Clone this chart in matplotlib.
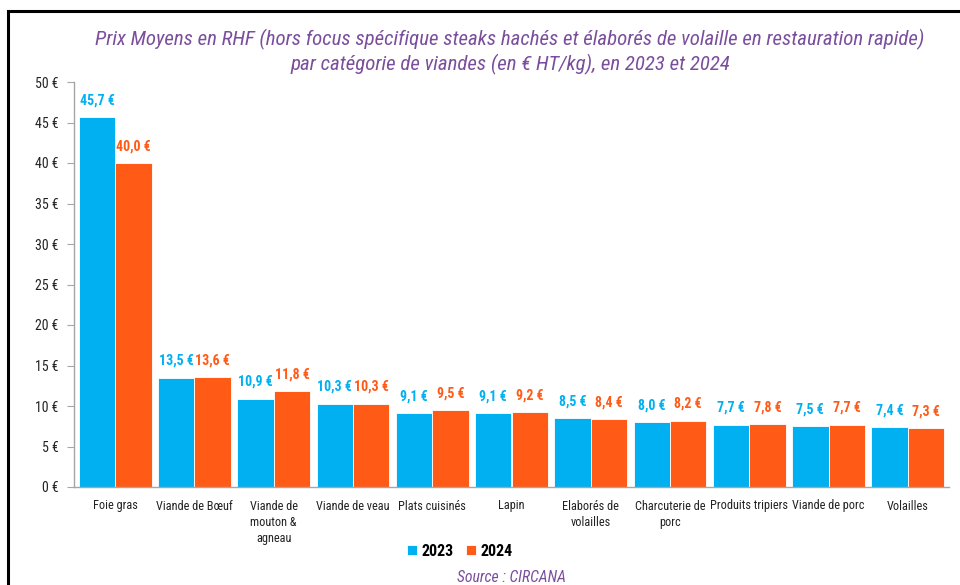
#!/usr/bin/env python3
from __future__ import annotations

import matplotlib

matplotlib.use("Agg")
from matplotlib import font_manager
import matplotlib.pyplot as plt
from matplotlib.patches import Rectangle
import numpy as np


CATEGORIES = [
    "Foie gras",
    "Viande de Bœuf",
    "Viande de\nmouton &\nagneau",
    "Viande de veau",
    "Plats cuisinés",
    "Lapin",
    "Elaborés de\nvolailles",
    "Charcuterie de\nporc",
    "Produits tripiers",
    "Viande de porc",
    "Volailles",
]
PRICES_2023 = [45.7, 13.5, 10.9, 10.3, 9.1, 9.1, 8.5, 8.0, 7.7, 7.5, 7.4]
PRICES_2024 = [40.0, 13.6, 11.8, 10.3, 9.5, 9.2, 8.4, 8.2, 7.8, 7.7, 7.3]
YEARS = ["2023", "2024"]
Y_TICKS = [0, 5, 10, 15, 20, 25, 30, 35, 40, 45, 50]

BLUE = "#00B0F0"
ORANGE = "#FF5A16"
PURPLE = "#7A4E9C"
AXIS_GRAY = "#A6A6A6"
TITLE = (
    "Prix Moyens en RHF (hors focus spécifique steaks hachés et élaborés de volaille en restauration rapide)\n"
    "par catégorie de viandes (en € HT/kg), en 2023 et 2024"
)


def _pick_font() -> str:
    available = {f.name for f in font_manager.fontManager.ttflist}
    for name in ("Roboto Condensed", "Liberation Sans Narrow", "Roboto", "DejaVu Sans"):
        if name in available:
            return name
    return "DejaVu Sans"


def _euro(value: float) -> str:
    return f"{value:.1f}".replace(".", ",") + " €"


def main() -> None:
    font = _pick_font()
    plt.rcParams.update({"font.family": [font, "DejaVu Sans"], "axes.unicode_minus": False})

    fig = plt.figure(figsize=(9.6, 5.85), dpi=100)
    fig.patch.set_facecolor("white")

    # outer frame (cut off at the right and bottom in the reference)
    fig.patches.append(
        Rectangle((8 / 960, -0.05), 1.2, 1 - 11 / 585 + 0.05, transform=fig.transFigure,
                  fill=False, edgecolor="black", linewidth=2.2)
    )

    ax = fig.add_axes([74 / 960, 1 - 487 / 585, 875 / 960, 405 / 585])
    x = np.arange(len(CATEGORIES))
    width = 0.46
    bars_a = ax.bar(x - width / 2, PRICES_2023, width, color=BLUE, edgecolor="white", linewidth=0.6,
                    label=YEARS[0])
    bars_b = ax.bar(x + width / 2, PRICES_2024, width, color=ORANGE, edgecolor="white", linewidth=0.6,
                    label=YEARS[1])

    for bars, values, color in ((bars_a, PRICES_2023, BLUE), (bars_b, PRICES_2024, ORANGE)):
        for bar, value in zip(bars, values):
            ax.annotate(
                _euro(value),
                (bar.get_x() + bar.get_width() / 2, bar.get_height()),
                xytext=(0, 7),
                textcoords="offset points",
                ha="center",
                va="bottom",
                fontsize=10,
                fontweight="bold",
                color=color,
            )

    ax.set_xlim(-0.52, len(CATEGORIES) - 0.48)
    ax.set_ylim(0, 50)
    ax.set_yticks(Y_TICKS)
    ax.set_yticklabels([f"{v} €" for v in Y_TICKS], fontsize=10, color="#222222")
    ax.set_xticks(x)
    ax.set_xticklabels(CATEGORIES, fontsize=8.8, color="#222222", va="top", linespacing=1.33)
    ax.tick_params(axis="x", length=0, pad=9)
    ax.tick_params(axis="y", direction="out", length=5, width=0.8, color=AXIS_GRAY, pad=6)
    for side in ("top", "right"):
        ax.spines[side].set_visible(False)
    for side in ("left", "bottom"):
        ax.spines[side].set_color(AXIS_GRAY)
        ax.spines[side].set_linewidth(1.0)

    fig.text(510 / 960, 1 - 52 / 585, TITLE, ha="center", va="center", fontsize=15, style="italic",
             color=PURPLE, linespacing=1.3)

    fig.legend(
        handles=[bars_a, bars_b],
        labels=YEARS,
        loc="center",
        bbox_to_anchor=(460 / 960, 1 - 551 / 585),
        ncol=2,
        frameon=False,
        prop={"size": 11.5, "weight": "bold"},
        handlelength=0.6,
        handleheight=0.6,
        handletextpad=0.3,
        columnspacing=0.8,
    )

    fig.text(511 / 960, 1 - 578 / 585, "Source : CIRCANA", ha="center", va="center", fontsize=11.3,
             style="italic", color=PURPLE)

    fig.savefig("out.png", dpi=100, facecolor="white")
    plt.close(fig)


if __name__ == "__main__":
    main()
